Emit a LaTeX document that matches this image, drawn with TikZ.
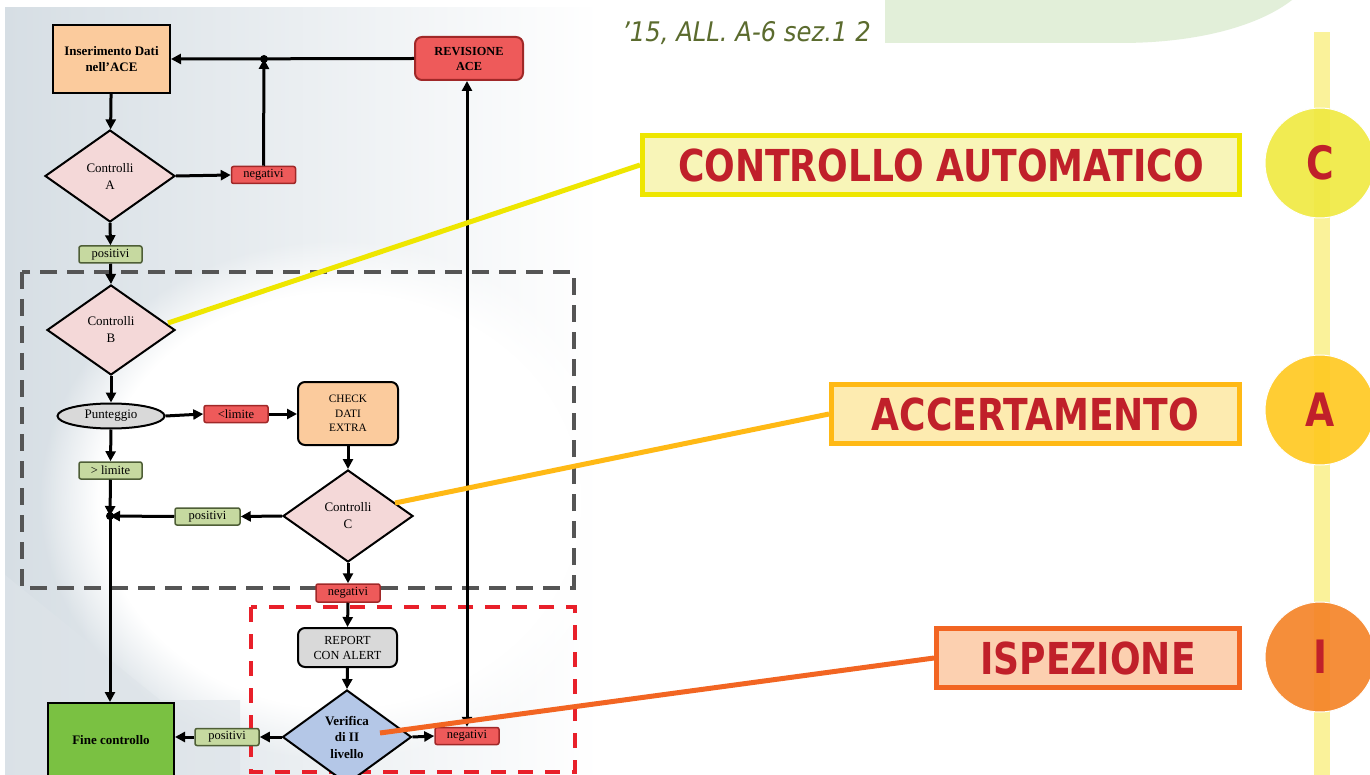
\documentclass[tikz,border=0pt]{standalone}
\usepackage{fontspec}
\setmainfont{Liberation Serif}
\newfontfamily\lblfont[FakeStretch=0.82]{DejaVu Sans}
\newfontfamily\hdrfont[FakeStretch=0.9]{DejaVu Sans}
\usetikzlibrary{shapes.geometric,arrows.meta,calc,fadings}
\definecolor{peach}{HTML}{FBCB9D}
\definecolor{redbox}{HTML}{EE5A5A}
\definecolor{rededge}{HTML}{A02828}
\definecolor{greenbox}{HTML}{C6D9A0}
\definecolor{greenedge}{HTML}{4E5E36}
\definecolor{pinkd}{HTML}{F4D8D8}
\definecolor{greyfill}{HTML}{D9D9D9}
\definecolor{bluefill}{HTML}{B4C7E7}
\definecolor{finegreen}{HTML}{7AC142}
\definecolor{dashgrey}{HTML}{555555}
\definecolor{dashred}{HTML}{E8202A}
\definecolor{panel}{HTML}{D6DEE4}
\definecolor{topgreen}{HTML}{E2EFD9}
\definecolor{olive}{HTML}{5B6B2E}
\definecolor{barY}{HTML}{FAF29A}
\definecolor{circC}{HTML}{F0E940}
\definecolor{circA}{HTML}{FFC81E}
\definecolor{circI}{HTML}{F58225}
\definecolor{lblred}{HTML}{C0202A}
\definecolor{caedge}{HTML}{EEE600}
\definecolor{cafill}{HTML}{F8F5B8}
\definecolor{acedge}{HTML}{FFB915}
\definecolor{acfill}{HTML}{FDEBB0}
\definecolor{isedge}{HTML}{F26522}
\definecolor{isfill}{HTML}{FCD0B0}
\tikzset{
  base/.style={draw=black, line width=2pt, inner sep=1pt, align=center, font=\fontsize{13}{17}\selectfont},
  rectbox/.style={base, rectangle},
  roundbox/.style={base, rectangle, rounded corners=7pt},
  decision/.style={base, diamond, fill=pinkd, line width=2pt, inner sep=0pt},
  tagred/.style={rectangle, rounded corners=2pt, draw=rededge, line width=1.5pt, fill=redbox, minimum width=64, minimum height=17, inner sep=0pt, font=\fontsize{12.5}{13}\selectfont},
  taggreen/.style={rectangle, rounded corners=2pt, draw=greenedge, line width=1.5pt, fill=greenbox, minimum width=63, minimum height=17, inner sep=0pt, font=\fontsize{12.5}{13}\selectfont},
  flow/.style={line width=3pt, -{Triangle[length=10pt,width=10pt]}},
  flowboth/.style={line width=3pt, {Triangle[length=10pt,width=10pt]}-{Triangle[length=10pt,width=10pt]}},
  label box/.style={rectangle, line width=5pt, inner sep=0pt, minimum height=59, text=lblred, font=\lblfont\bfseries\fontsize{44}{48}\selectfont},
  letter circle/.style={circle, draw=white, line width=1pt, minimum size=110, fill opacity=0.9, text opacity=1, text=lblred, font=\lblfont\bfseries\fontsize{46}{48}\selectfont},
  callout/.style={line width=5pt}
}
\begin{document}
\begin{tikzpicture}[x=1pt,y=-1pt]
\useasboundingbox (0,0) rectangle (1370,775);
\fill[white] (0,0) rectangle (1370,775);
% background panel
\shade[left color=panel, right color=white] (5,8) rectangle (600,775);
\fill[white, path fading=circle with fuzzy edge 20 percent] (340,500) ellipse (300 and 260);
\fill[panel!80, opacity=0.6] (5,575) -- (160,700) -- (240,700) -- (240,775) -- (5,775) -- cycle;
% top right green shape
\fill[topgreen] (885,0) -- (885,43) -- (1120,43) .. controls (1200,43) and (1260,25) .. (1292,0) -- cycle;
\node[anchor=base west, text=olive, inner sep=0pt, font=\hdrfont\itshape\fontsize{27}{30}\selectfont] (hdr) at (622,42) {’15, ALL. A-6 sez.1 2};
% dashed groups
\draw[dashgrey, line width=4.5pt, dash pattern=on 17pt off 10pt] (22,272) rectangle (574,588);
\draw[dashred, line width=3.5pt, dash pattern=on 15pt off 12pt] (251,607) rectangle (575,772);
% nodes
\node[rectbox, fill=peach, minimum width=117, minimum height=68, font=\bfseries\fontsize{13}{16}\selectfont] (ins) at (111.5,59) {Inserimento Dati\\nell’ACE};
\node[roundbox, fill=redbox, draw=rededge, minimum width=108, minimum height=43, font=\bfseries\fontsize{12.3}{15}\selectfont] (rev) at (469,58.5) {REVISIONE\\ACE};
\node[decision, minimum width=130, minimum height=92] (ca) at (110,176) {Controlli\\A};
\node[tagred] (negA) at (263.5,175) {negativi};
\node[taggreen] (posA) at (110.5,254.5) {positivi};
\node[decision, minimum width=128, minimum height=90] (cb) at (111,330) {Controlli\\B};
\node[base, ellipse, fill=greyfill, minimum width=107, minimum height=25, inner sep=0pt] (punt) at (111,416) {Punteggio};
\node[tagred] (ltlim) at (236,414) {<limite};
\node[roundbox, fill=peach, minimum width=100, minimum height=63, font=\fontsize{11.3}{14.5}\selectfont] (check) at (348,413.5) {CHECK\\DATI\\EXTRA};
\node[taggreen] (gtlim) at (110.5,470.5) {> limite};
\coordinate (jC) at (110,516);
\node[taggreen, minimum width=65] (posC) at (207.5,516.5) {positivi};
\node[decision, minimum width=130, minimum height=92] (cc) at (348,516) {Controlli\\C};
\node[tagred, minimum height=18] (negC) at (348,593) {negativi};
\node[roundbox, fill=greyfill, minimum width=99, minimum height=39, font=\fontsize{12.3}{15}\selectfont] (report) at (347.5,647.5) {REPORT\\CON ALERT};
\node[decision, fill=bluefill, minimum width=129, minimum height=94, font=\bfseries\fontsize{13}{16.5}\selectfont] (ver) at (347,737) {Verifica\\di II\\livello};
\node[taggreen, minimum width=64] (posV) at (227,737) {positivi};
\node[tagred] (negV) at (467,736) {negativi};
\node[rectbox, fill=finegreen, minimum width=126, minimum height=74, font=\bfseries\fontsize{13}{16}\selectfont] (fine) at (111,740) {Fine controllo};
\coordinate (j1) at (264,59);
% connectors
\draw[flow] (ins) -- (ca);
\draw[flow] (ca.east) -- (negA.west);
\draw[flow] (negA.north) -- (j1);
\draw[flow] (rev.west) -- (ins.east);
\draw[flow] (ca.south) -- (posA.north);
\draw[flow] (posA.south) -- (cb.north);
\draw[flow] (cb.south) -- (punt.north);
\draw[flow] (punt.east) -- (ltlim.west);
\draw[flow] (ltlim.east) -- (ltlim.east -| check.west);
\draw[flow] (punt.south) -- (gtlim.north);
\draw[flow] (gtlim.south) -- (jC);
\draw[flow] (check.south) -- (cc.north);
\draw[flow] (cc.west) -- (posC.east);
\draw[flow] (posC.west) -- (jC);
\draw[flow] (jC) -- (fine.north -| jC);
\draw[flow] (cc.south) -- (negC.north);
\draw[flow] (negC.south) -- (report.north);
\draw[flow] (report.south) -- (ver.north);
\draw[flow] (ver.west) -- (posV.east);
\draw[flow] (posV.west) -- (fine.east |- posV.west);
\draw[flow] (ver.east) -- (negV.west);
\draw[flowboth] (negV.north) -- (negV.north |- rev.south);
\fill (j1) circle (4);
\fill (jC) circle (4);
% right side bar and circles
\fill[barY] (1314,32) rectangle (1330,775);
\node[letter circle, fill=circC] (cC) at (1320,163) {C};
\node[letter circle, fill=circA] (cA) at (1320,410) {A};
\node[letter circle, fill=circI] (cI) at (1320,657) {I};
% label boxes
\node[label box, draw=caedge, fill=cafill, minimum width=597] (lca) at (941,165) {CONTROLLO AUTOMATICO};
\node[label box, draw=acedge, fill=acfill, minimum width=408] (lac) at (1035.5,414) {ACCERTAMENTO};
\node[label box, draw=isedge, fill=isfill, minimum width=303] (lis) at (1088,658) {ISPEZIONE};
% callouts
\coordinate (pB) at (168,323);
\coordinate (pC) at (395,503);
\coordinate (pV) at (380,733);
\draw[callout, caedge] (lca.west) -- (pB);
\draw[callout, acedge] (lac.west) -- (pC);
\draw[callout, isedge] (lis.west) -- (pV);
\end{tikzpicture}
\end{document}
